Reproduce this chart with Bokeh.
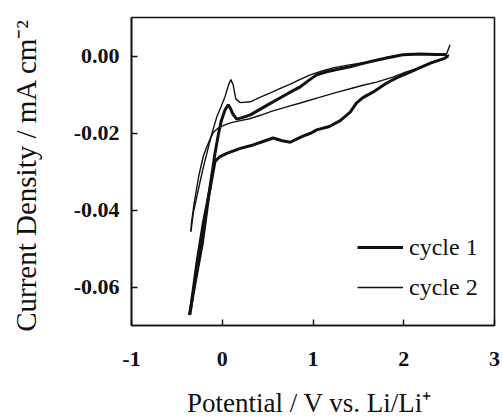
from bokeh.plotting import figure
from bokeh.models import FixedTicker, Legend, LegendItem, Range1d
from bokeh.embed import file_html
from bokeh.resources import INLINE

# ---- data ----
c1_cath_x = [2.49, 2.45, 2.30, 2.18, 2.05, 1.92, 1.80, 1.66, 1.55, 1.48, 1.41, 1.30, 1.18, 1.04, 0.98, 0.89, 0.80, 0.75, 0.66, 0.56, 0.45, 0.34, 0.20, 0.05, -0.03, -0.08, -0.13, -0.21, -0.28, -0.35, -0.36]
c1_cath_y = [0.0000, -0.0006, -0.0018, -0.0030, -0.0044, -0.0057, -0.0072, -0.0094, -0.0108, -0.0122, -0.0146, -0.0168, -0.0183, -0.0192, -0.0200, -0.0208, -0.0218, -0.0224, -0.0220, -0.0213, -0.0222, -0.0231, -0.0240, -0.0253, -0.0262, -0.0274, -0.0339, -0.0435, -0.0538, -0.0660, -0.0673]
c1_anod_x = [-0.36, -0.30, -0.22, -0.15, -0.08, -0.04, -0.01, 0.03, 0.066, 0.09, 0.12, 0.16, 0.22, 0.31, 0.42, 0.53, 0.65, 0.78, 0.86, 0.95, 1.04, 1.15, 1.26, 1.41, 1.52, 1.66, 1.81, 1.99, 2.18, 2.35, 2.47]
c1_anod_y = [-0.0673, -0.0590, -0.0487, -0.0365, -0.0253, -0.0200, -0.0168, -0.0140, -0.0127, -0.0136, -0.0152, -0.0164, -0.0160, -0.0153, -0.0138, -0.0123, -0.0107, -0.0090, -0.0080, -0.0064, -0.0049, -0.0041, -0.0035, -0.0028, -0.0021, -0.0013, -0.0005, 0.0003, 0.0005, 0.0004, 0.0004]

c2_cath_x = [2.50, 2.45, 2.30, 2.18, 2.02, 1.88, 1.70, 1.55, 1.44, 1.25, 1.08, 0.86, 0.71, 0.55, 0.42, 0.30, 0.20, 0.10, 0.05, -0.02, -0.06, -0.10, -0.13, -0.17, -0.21, -0.26, -0.31, -0.34, -0.345]
c2_cath_y = [0.0003, -0.0006, -0.0019, -0.0030, -0.0042, -0.0055, -0.0068, -0.0076, -0.0083, -0.0095, -0.0107, -0.0122, -0.0132, -0.0143, -0.0154, -0.0163, -0.0168, -0.0173, -0.0177, -0.0184, -0.0190, -0.0199, -0.0214, -0.0236, -0.0261, -0.0313, -0.0383, -0.0435, -0.0456]
c2_anod_x = [-0.345, -0.32, -0.28, -0.24, -0.20, -0.16, -0.11, -0.06, -0.01, 0.03, 0.07, 0.095, 0.12, 0.15, 0.20, 0.31, 0.42, 0.53, 0.64, 0.75, 0.86, 0.97, 1.10, 1.22, 1.40, 1.63, 1.81, 1.96, 2.10, 2.30, 2.47, 2.51]
c2_anod_y = [-0.0456, -0.0409, -0.0365, -0.0322, -0.0281, -0.0244, -0.0198, -0.0158, -0.0130, -0.0106, -0.0075, -0.0061, -0.0075, -0.0112, -0.0121, -0.0119, -0.0107, -0.0096, -0.0084, -0.0073, -0.0061, -0.0049, -0.0039, -0.0031, -0.0023, -0.0015, -0.0004, 0.0003, 0.0005, 0.0004, 0.0004, 0.0029]

x_ticks = [-1, 0, 1, 2, 3]
x_tick_labels = ["-1", "0", "1", "2", "3"]
y_ticks = [0.0, -0.02, -0.04, -0.06]
y_tick_labels = ["0.00", "-0.02", "-0.04", "-0.06"]
series_names = ["cycle 1", "cycle 2"]

SERIF = "Liberation Serif"
INK = "#111111"

p = figure(frame_width=363, frame_height=308, output_backend="svg", toolbar_location=None,
           x_range=Range1d(-1, 3), y_range=Range1d(-0.07, 0.01),
           min_border_left=131, min_border_top=17, min_border_right=8, min_border_bottom=94)
p.background_fill_color = "white"
p.border_fill_color = "white"
p.xgrid.visible = False
p.ygrid.visible = False
p.outline_line_color = INK
p.outline_line_width = 1.6

r1a = p.line(c1_cath_x, c1_cath_y, line_color=INK, line_width=3)
r1b = p.line(c1_anod_x, c1_anod_y, line_color=INK, line_width=3)
r2a = p.line(c2_cath_x, c2_cath_y, line_color=INK, line_width=1.4)
r2b = p.line(c2_anod_x, c2_anod_y, line_color=INK, line_width=1.4)

for ax, ticks, labels in ((p.xaxis[0], x_ticks, x_tick_labels), (p.yaxis[0], y_ticks, y_tick_labels)):
    ax.ticker = FixedTicker(ticks=ticks)
    ax.major_label_overrides = {t: l for t, l in zip(ticks, labels)}
    ax.major_tick_in = 6
    ax.major_tick_out = 0
    ax.minor_tick_in = 0
    ax.minor_tick_out = 0
    ax.axis_line_color = INK
    ax.axis_line_width = 1.6
    ax.major_tick_line_color = INK
    ax.major_tick_line_width = 1.4
    ax.major_label_text_font = SERIF
    ax.major_label_text_font_style = "bold"
    ax.major_label_text_font_size = "22px"
    ax.major_label_text_color = INK
    ax.axis_label_text_font = SERIF
    ax.axis_label_text_font_style = "normal"
    ax.axis_label_text_color = INK

p.xaxis[0].axis_label = "Potential  / V vs. Li/Li\u207a"
p.xaxis[0].axis_label_text_font_size = "27px"
p.xaxis[0].major_label_standoff = 26
p.xaxis[0].axis_label_standoff = 19
p.yaxis[0].axis_label = "Current Density  / mA cm\u207b\u00b2"
p.yaxis[0].axis_label_text_font_size = "29px"
p.yaxis[0].major_label_standoff = 12
p.yaxis[0].axis_label_standoff = 29

legend = Legend(items=[LegendItem(label=series_names[0], renderers=[r1a]),
                       LegendItem(label=series_names[1], renderers=[r2a])],
                location=(226, 24))
legend.border_line_color = None
legend.background_fill_alpha = 0
legend.padding = 0
legend.margin = 0
legend.spacing = 12
legend.glyph_width = 46
legend.glyph_height = 28
legend.label_height = 28
legend.label_standoff = 6
legend.label_text_font = SERIF
legend.label_text_font_size = "24px"
legend.label_text_color = INK
p.add_layout(legend, "center")

open("out.html", "w").write(file_html(p, INLINE))
